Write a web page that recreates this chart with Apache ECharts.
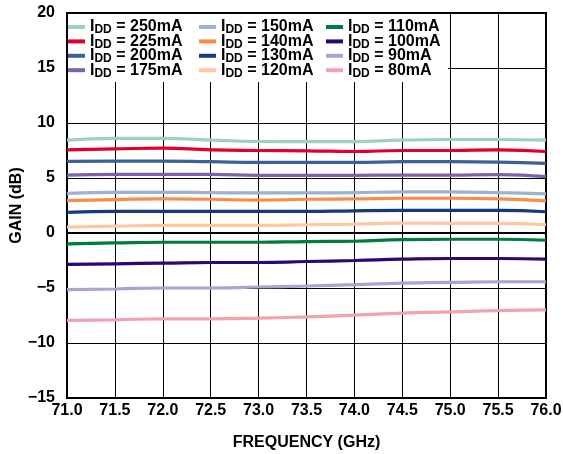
<!DOCTYPE html>
<html><head><meta charset="utf-8">
<script src="https://cdn.jsdelivr.net/npm/echarts@6/dist/echarts.min.js"></script>
<style>html,body{margin:0;padding:0;background:#fff}#c{width:563px;height:454px}</style>
</head><body><div id="c"></div>
<script>
const freqGHz = [71.0, 71.5, 72.0, 72.5, 73.0, 73.5, 74.0, 74.5, 75.0, 75.5, 76.0];
const yTicks = [-15, -10, -5, 0, 5, 10, 15, 20];
const seriesNames = ['250mA','225mA','200mA','175mA','150mA','140mA','130mA','120mA','110mA','100mA','90mA','80mA'];
const gain250 = [8.45, 8.6, 8.6, 8.45, 8.32, 8.3, 8.3, 8.45, 8.5, 8.5, 8.45];
const gain225 = [7.56, 7.65, 7.71, 7.56, 7.5, 7.47, 7.41, 7.5, 7.5, 7.56, 7.41];
const gain200 = [6.51, 6.54, 6.54, 6.48, 6.42, 6.42, 6.42, 6.48, 6.48, 6.45, 6.33];
const gain175 = [5.27, 5.33, 5.33, 5.33, 5.24, 5.24, 5.24, 5.27, 5.27, 5.3, 5.12];
const gain150 = [3.61, 3.7, 3.7, 3.67, 3.64, 3.64, 3.67, 3.73, 3.73, 3.67, 3.55];
const gain140 = [2.95, 3.04, 3.1, 3.07, 2.98, 3.07, 3.1, 3.16, 3.16, 3.1, 2.92];
const gain130 = [1.87, 1.96, 1.96, 1.96, 1.96, 1.96, 2.02, 2.05, 2.05, 2.05, 1.93];
const gain120 = [0.54, 0.63, 0.69, 0.69, 0.69, 0.75, 0.81, 0.9, 0.87, 0.87, 0.75];
const gain110 = [-0.99, -0.9, -0.84, -0.84, -0.84, -0.78, -0.75, -0.6, -0.57, -0.57, -0.66];
const gain100 = [-2.86, -2.8, -2.74, -2.68, -2.68, -2.59, -2.5, -2.38, -2.32, -2.32, -2.38];
const gain90 = [-5.15, -5.09, -5.0, -5.0, -4.91, -4.82, -4.7, -4.55, -4.49, -4.43, -4.43];
const gain80 = [-7.95, -7.89, -7.8, -7.8, -7.74, -7.62, -7.47, -7.29, -7.17, -7.05, -6.99];
const gains = [gain250, gain225, gain200, gain175, gain150, gain140, gain130, gain120, gain110, gain100, gain90, gain80];
const colors = ['#9fd1b8','#e2002a','#3f5f98','#7e62a9','#9db2d1','#fb8c46','#153a80','#fec6a1','#007c3e','#2a0873','#b0a1d1','#f2a1af'];

const font = 'Liberation Sans, Arial, sans-serif';
const series = seriesNames.map((n, i) => ({
  name: n, type: 'line', smooth: true, showSymbol: false, symbol: 'none',
  lineStyle: { width: 3.2, color: colors[i] }, itemStyle: { color: colors[i] },
  data: freqGHz.map((f, k) => [f, gains[i][k]]), z: 2
}));
const legendCommon = {
  orient: 'vertical', top: 14, itemWidth: 17, itemHeight: 4, itemGap: -2.6, icon: 'rect',
  z: 10,
  formatter: n => '{i|I}{s|DD}{i| = ' + n + '}',
  textStyle: {
    fontFamily: font, fontWeight: 'bold', color: '#000',
    rich: {
      i: { fontFamily: font, fontWeight: 'bold', fontSize: 16, color: '#000', lineHeight: 18 },
      s: { fontFamily: font, fontWeight: 'bold', fontSize: 12, color: '#000', lineHeight: 10, verticalAlign: 'bottom' }
    }
  }
};
const chart = echarts.init(document.getElementById('c'));
chart.setOption({
  animation: false,
  backgroundColor: '#fff',
  grid: { left: 67, right: 17, top: 13, bottom: 56, show: true, borderColor: '#000', borderWidth: 2, containLabel: false, outerBoundsMode: 'none' },
  legend: [
    Object.assign({}, legendCommon, { left: 63, data: seriesNames.slice(0, 4) }),
    Object.assign({}, legendCommon, { left: 194, data: seriesNames.slice(4, 8) }),
    Object.assign({}, legendCommon, { left: 321, data: seriesNames.slice(8, 12) })
  ],
  graphic: [{ type: 'rect', shape: { x: 68, y: 14, width: 380, height: 68 }, style: { fill: '#fff' }, z: 5 }],
  xAxis: {
    type: 'value', min: 71, max: 76, interval: 0.5,
    name: 'FREQUENCY (GHz)', nameLocation: 'middle', nameGap: 37, nameMoveOverlap: false,
    nameTextStyle: { fontFamily: font, fontWeight: 'bold', fontSize: 16, color: '#000' },
    axisLine: { lineStyle: { color: '#000', width: 2 } },
    axisTick: { show: false },
    axisLabel: { fontFamily: font, fontWeight: 'bold', fontSize: 16, color: '#000', margin: 5, formatter: v => v.toFixed(1) },
    splitLine: { show: true, lineStyle: { color: '#000', width: 1 } }
  },
  yAxis: {
    type: 'value', min: yTicks[0], max: yTicks[yTicks.length - 1], interval: 5,
    name: 'GAIN (dB)', nameLocation: 'middle', nameGap: 42, nameMoveOverlap: false,
    nameTextStyle: { fontFamily: font, fontWeight: 'bold', fontSize: 16, color: '#000' },
    axisLine: { show: true, lineStyle: { color: '#000', width: 2 } },
    axisTick: { show: false },
    axisLabel: { fontFamily: font, fontWeight: 'bold', fontSize: 16, color: '#000', margin: 12, formatter: v => String(v).replace('-', '\u2212') },
    splitLine: { show: true, lineStyle: { color: '#000', width: 1 } }
  },
  series: series
});
</script></body></html>
